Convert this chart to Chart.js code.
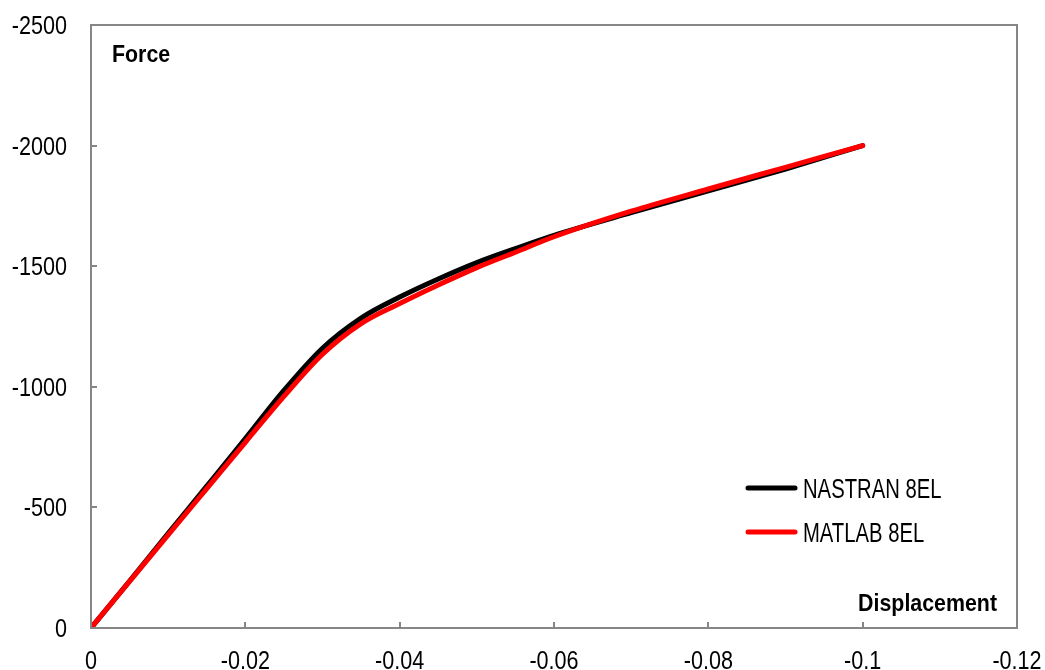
<!DOCTYPE html>
<html>
<head>
    <title>Force - Displacement</title>
    <style>
        html, body { margin: 0; padding: 0; background: #fff; }
        .chart-container { width: 1045px; height: 670px; }
    </style>
</head>
<body>
<div class="chart-container">
    <canvas id="myChart"></canvas>
</div>
<script src="https://cdn.jsdelivr.net/npm/chart.js"></script>
<script>
    // deplasare (m) si forta (N) pentru cele doua modele
    const displacement = [0, -0.005, -0.01, -0.015, -0.02, -0.025, -0.03, -0.035, -0.04, -0.045, -0.05, -0.055, -0.06, -0.07, -0.08, -0.09, -0.1];
    const nastranForce = [0, -195, -392, -588, -785, -985, -1160, -1285, -1372, -1447, -1515, -1573, -1628, -1722, -1812, -1903, -2000];
    const matlabForce = [0, -193, -386, -578, -770, -960, -1135, -1262, -1345, -1422, -1494, -1558, -1622, -1728, -1820, -1910, -2000];

    const xTicks = [0, -0.02, -0.04, -0.06, -0.08, -0.1, -0.12];
    const yTicks = [0, -500, -1000, -1500, -2000, -2500];

    const FONT = '"Liberation Sans", Arial, sans-serif';
    const AXIS_GRAY = '#868686';

    function toPoints(xs, ys) {
        return xs.map((x, i) => ({x: x, y: ys[i]}));
    }

    // text ingustat pe orizontala (aspect de Arial Narrow)
    function narrowText(ctx, text, x, y, align, font, sx) {
        ctx.save();
        ctx.translate(x, y);
        ctx.scale(sx, 1);
        ctx.font = font;
        ctx.textAlign = align;
        ctx.textBaseline = 'alphabetic';
        ctx.fillStyle = '#000';
        ctx.fillText(text, 0, 0);
        ctx.restore();
    }

    function fmtTick(v) {
        return String(parseFloat(v.toFixed(2)));
    }

    // cadru, tickuri interioare, etichete, titluri si legenda
    const framePlugin = {
        id: 'frame',
        afterDraw(chart) {
            const ctx = chart.ctx;
            const a = chart.chartArea;
            const xs = chart.scales.x;
            const ys = chart.scales.y;
            ctx.save();
            ctx.strokeStyle = AXIS_GRAY;
            ctx.lineWidth = 2;
            ctx.strokeRect(a.left, a.top, a.right - a.left, a.bottom - a.top);

            ctx.beginPath();
            xTicks.forEach(v => {
                const px = Math.round(xs.getPixelForValue(v));
                ctx.moveTo(px, a.bottom);
                ctx.lineTo(px, a.bottom - 6);
            });
            yTicks.forEach(v => {
                const py = Math.round(ys.getPixelForValue(v));
                ctx.moveTo(a.left, py);
                ctx.lineTo(a.left + 6, py);
            });
            ctx.stroke();
            ctx.restore();

            const tickFont = '26px ' + FONT;
            xTicks.forEach(v => {
                narrowText(ctx, fmtTick(v), xs.getPixelForValue(v), a.bottom + 41, 'center', tickFont, 0.83);
            });
            yTicks.forEach(v => {
                narrowText(ctx, String(v), a.left - 24, ys.getPixelForValue(v) + 9, 'right', tickFont, 0.83);
            });

            const boldFont = 'bold 24px ' + FONT;
            narrowText(ctx, 'Force', a.left + 21, a.top + 37, 'left', boldFont, 0.89);
            narrowText(ctx, 'Displacement', a.right - 20, a.bottom - 17, 'right', boldFont, 0.89);

            // legenda
            ctx.save();
            ctx.lineCap = 'round';
            ctx.lineWidth = 5;
            chart.data.datasets.forEach((ds, i) => {
                const y = 488 + i * 44;
                ctx.strokeStyle = ds.borderColor;
                ctx.beginPath();
                ctx.moveTo(748, y);
                ctx.lineTo(795, y);
                ctx.stroke();
                narrowText(ctx, ds.label, 803, y + 9.5, 'left', '27px ' + FONT, 0.75);
            });
            ctx.restore();
        }
    };

    const chartConfig = {
        type: 'scatter',
        data: {
            datasets: [{
                label: 'NASTRAN 8EL',
                data: toPoints(displacement, nastranForce),
                borderColor: '#000000',
                borderWidth: 5,
                order: 1
            }, {
                label: 'MATLAB 8EL',
                data: toPoints(displacement, matlabForce),
                borderColor: '#ff0000',
                borderWidth: 5,
                order: 0
            }]
        },
        options: {
            responsive: true,
            maintainAspectRatio: false,
            animation: false,
            showLine: true,
            elements: {
                point: {radius: 0, hoverRadius: 0},
                line: {cubicInterpolationMode: 'monotone', borderCapStyle: 'round', borderJoinStyle: 'round', fill: false}
            },
            layout: {padding: {top: 25, right: 28, left: 0, bottom: 0}},
            plugins: {
                legend: {display: false},
                tooltip: {enabled: false}
            },
            scales: {
                x: {
                    type: 'linear',
                    min: -0.12,
                    max: 0,
                    reverse: true,
                    afterBuildTicks: scale => { scale.ticks = xTicks.map(v => ({value: v})); },
                    afterFit: scale => {
                        scale.height = 42;
                        scale.paddingLeft = 0;
                        scale.paddingRight = 0;
                    },
                    grid: {display: false, drawTicks: false},
                    border: {display: false},
                    ticks: {display: false}
                },
                y: {
                    type: 'linear',
                    min: -2500,
                    max: 0,
                    reverse: true,
                    afterBuildTicks: scale => { scale.ticks = yTicks.map(v => ({value: v})); },
                    afterFit: scale => {
                        scale.width = 91;
                        scale.paddingTop = 0;
                        scale.paddingBottom = 0;
                    },
                    grid: {display: false, drawTicks: false},
                    border: {display: false},
                    ticks: {display: false}
                }
            }
        },
        plugins: [framePlugin]
    };

    const canvas = document.getElementById('myChart');
    const chart = new Chart(canvas, chartConfig);
</script>
</body>
</html>
